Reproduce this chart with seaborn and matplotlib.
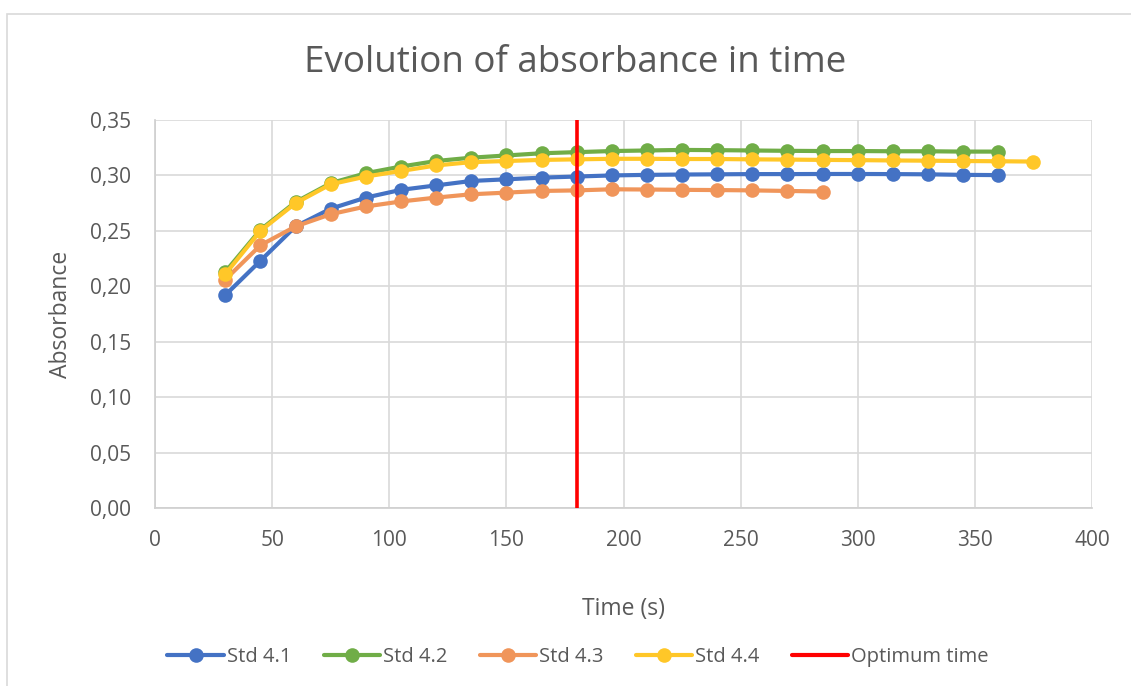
import numpy as np
import pandas as pd
import matplotlib
matplotlib.use("Agg")
import matplotlib.pyplot as plt
from matplotlib.lines import Line2D
from matplotlib.patches import Rectangle
import seaborn as sns

# Sampling times (s)
time_41 = list(range(30, 361, 15))
time_42 = list(range(30, 361, 15))
time_43 = list(range(30, 286, 15))
time_44 = list(range(30, 376, 15))

# Absorbance readings per standard
abs_41 = [0.192, 0.223, 0.254, 0.270, 0.280, 0.287, 0.291, 0.295, 0.2965, 0.298,
          0.299, 0.300, 0.3005, 0.3008, 0.301, 0.3012, 0.3012, 0.3013, 0.3013,
          0.3012, 0.301, 0.3005, 0.3003]
abs_42 = [0.213, 0.251, 0.276, 0.293, 0.302, 0.308, 0.313, 0.316, 0.318, 0.320,
          0.321, 0.322, 0.3225, 0.323, 0.3228, 0.3225, 0.3222, 0.322, 0.322,
          0.3218, 0.3218, 0.3215, 0.3215]
abs_43 = [0.206, 0.237, 0.254, 0.265, 0.272, 0.2765, 0.280, 0.283, 0.2845, 0.286,
          0.2865, 0.2875, 0.2873, 0.287, 0.2868, 0.2865, 0.286, 0.2855]
abs_44 = [0.211, 0.250, 0.275, 0.292, 0.299, 0.304, 0.309, 0.312, 0.313, 0.314,
          0.3145, 0.315, 0.315, 0.3148, 0.3148, 0.3145, 0.3143, 0.314, 0.3138,
          0.3135, 0.3133, 0.313, 0.3128, 0.3125]

series_names = ["Std 4.1", "Std 4.2", "Std 4.3", "Std 4.4"]
optimum_time = 180
x_ticks = [0, 50, 100, 150, 200, 250, 300, 350, 400]
y_ticks = [0.00, 0.05, 0.10, 0.15, 0.20, 0.25, 0.30, 0.35]

colors = ["#4472c4", "#70ad47", "#f0955a", "#ffc728"]

frames = []
for name, t, a in zip(series_names, [time_41, time_42, time_43, time_44],
                      [abs_41, abs_42, abs_43, abs_44]):
    frames.append(pd.DataFrame({"Time (s)": t, "Absorbance": a, "Series": name}))
df = pd.concat(frames, ignore_index=True)

sns.set_theme(style="white")
plt.rcParams["font.family"] = ["Open Sans", "DejaVu Sans"]

fig = plt.figure(figsize=(11.31, 6.86), dpi=100)
ax = fig.add_axes([155 / 1131, 1 - 508 / 686, (1092 - 155) / 1131, (508 - 120) / 686])

# Outer chart frame
fig.patches.append(Rectangle((7 / 1131, -0.05), 1.1, 1 - 14 / 686 + 0.05,
                             transform=fig.transFigure, fill=False,
                             edgecolor="#d9d9d9", linewidth=1.2, zorder=0))

sns.lineplot(data=df, x="Time (s)", y="Absorbance", hue="Series",
             hue_order=series_names, palette=colors, marker="o",
             markersize=10.5, markeredgewidth=0, linewidth=3,
             legend=False, ax=ax, estimator=None, sort=False)

ax.axvline(optimum_time, color="#ff0000", linewidth=2.6, zorder=5)

ax.set_xlim(0, 400)
ax.set_ylim(0, 0.35)
ax.set_xticks(x_ticks)
ax.set_yticks(y_ticks)
ax.set_yticklabels([f"{v:.2f}".replace(".", ",") for v in y_ticks])
ax.grid(True, color="#d9d9d9", linewidth=1.2)
ax.set_axisbelow(True)
for s in ax.spines.values():
    s.set_visible(False)
ax.spines["bottom"].set_visible(True)
ax.spines["bottom"].set_color("#d0d0d0")
ax.spines["left"].set_visible(True)
ax.spines["left"].set_color("#d0d0d0")
ax.tick_params(axis="both", labelsize=15, colors="#595959", length=0)
ax.tick_params(axis="y", pad=17)
ax.tick_params(axis="x", pad=16)

ax.set_xlabel("Time (s)", fontsize=16.5, color="#595959", labelpad=33)
ax.set_ylabel("Absorbance", fontsize=16.5, color="#595959", labelpad=12)

fig.text(575 / 1131, 1 - 63 / 686, "Evolution of absorbance in time",
         ha="center", va="center", fontsize=26.5, color="#595959")

handles = [Line2D([0], [0], color=c, marker="o", markersize=10.5,
                  markeredgewidth=0, linewidth=3) for c in colors]
handles.append(Line2D([0], [0], color="#ff0000", linewidth=3))
labels = series_names + ["Optimum time"]
fig.legend(handles, labels, loc="center", bbox_to_anchor=(578 / 1131, 1 - 657 / 686),
           ncol=5, frameon=False, fontsize=14.5, labelcolor="#595959",
           handlelength=2.8, handletextpad=0.15, columnspacing=1.6)

fig.savefig("out.png", dpi=100)
